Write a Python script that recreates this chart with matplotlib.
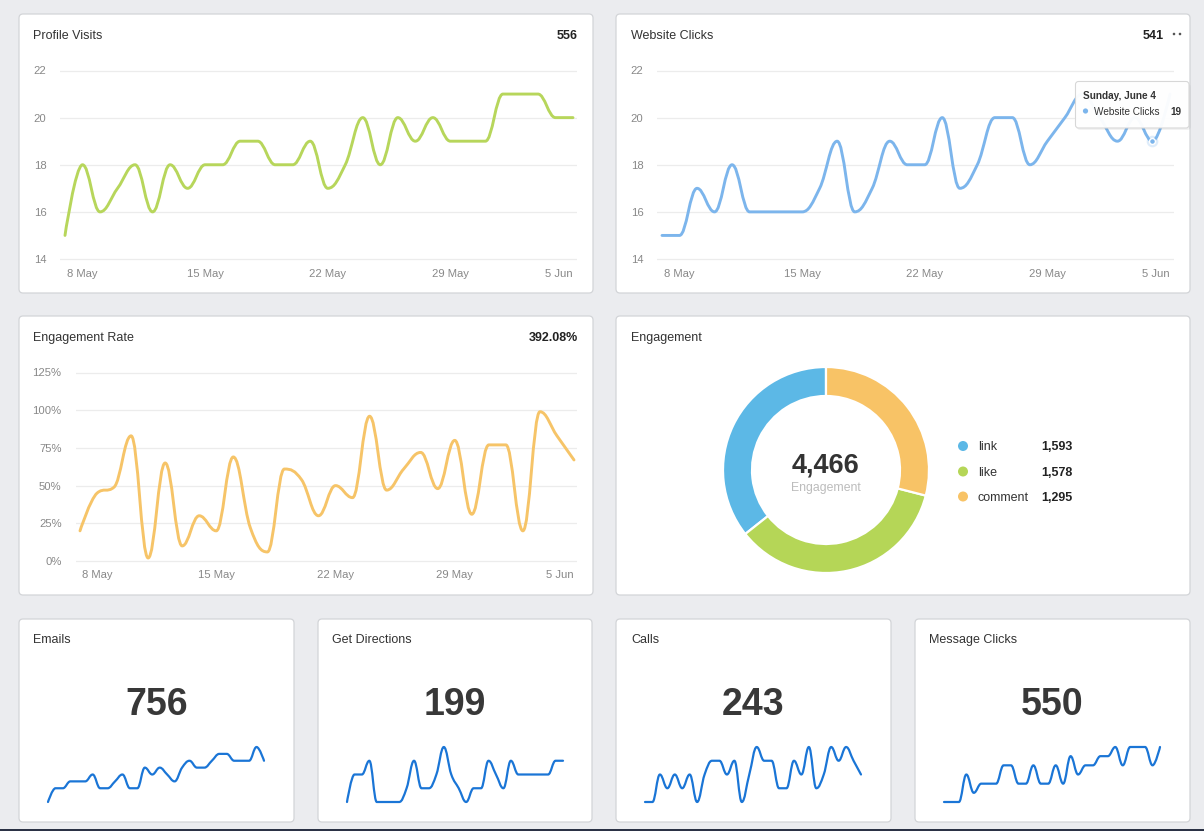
import matplotlib
matplotlib.use('Agg')
import matplotlib.pyplot as plt
from matplotlib.path import Path
from matplotlib.patches import PathPatch, FancyBboxPatch, Circle, Rectangle

plt.rcParams['font.family'] = ['Liberation Sans', 'DejaVu Sans']

# ---------------- data ----------------
days = ['7 May', '8 May', '9 May', '10 May', '11 May', '12 May', '13 May', '14 May',
        '15 May', '16 May', '17 May', '18 May', '19 May', '20 May', '21 May', '22 May',
        '23 May', '24 May', '25 May', '26 May', '27 May', '28 May', '29 May', '30 May',
        '31 May', '1 Jun', '2 Jun', '3 Jun', '4 Jun', '5 Jun']
xtick_pos = [1, 8, 15, 22, 29]
xtick_labels = ['8 May', '15 May', '22 May', '29 May', '5 Jun']

profile_visits = [15, 18, 16, 17, 18, 16, 18, 17, 18, 18,
                  19, 19, 18, 18, 19, 17, 18, 20, 18, 20,
                  19, 20, 19, 19, 19, 21, 21, 21, 20, 20]
website_clicks = [15, 15, 17, 16, 18, 16, 16, 16, 16, 17,
                  19, 16, 17, 19, 18, 18, 20, 17, 18, 20,
                  20, 18, 19, 20, 21, 20, 19, 20, 19, 21]
engagement_rate = [20, 45, 49, 83, 2, 65, 10, 30, 20, 69,
                   22, 6, 61, 54, 30, 50, 42, 96, 47, 61,
                   72, 48, 80, 31, 77, 77, 20, 99, 83, 67]
engagement_rate_total = '392.08%'

eng_labels = ['link', 'like', 'comment']
eng_values = [1593, 1578, 1295]

emails = [21, 23, 23, 24, 24, 24, 25, 23, 23, 24,
          25, 23, 23, 26, 25, 26, 25, 24, 26, 27,
          26, 26, 27, 28, 28, 27, 27, 27, 29, 27]
directions = [5, 7, 7, 8, 5, 5, 5, 5, 6, 8,
              6, 6, 7, 9, 7, 6, 5, 6, 6, 8,
              7, 6, 8, 7, 7, 7, 7, 7, 8, 8]
calls = [6, 6, 8, 7, 8, 7, 8, 6, 8, 9,
         9, 8, 9, 6, 8, 10, 9, 9, 7, 7,
         9, 8, 10, 7, 8, 10, 9, 10, 9, 8]
message_clicks = [15, 15, 15, 18, 16, 17, 17, 17, 19, 19,
                  17, 17, 19, 17, 17, 19, 17, 20, 18, 19,
                  19, 20, 20, 21, 19, 21, 21, 21, 19, 21]

# ---------------- styling ----------------
W, H = 1204, 831
BG = '#EBECEF'
TXT = '#333333'
TICK = '#888888'
GRID = '#ececec'
C_GREEN = '#B7D65B'
C_BLUE = '#7CB5EC'
C_ORANGE = '#F6C468'
C_SPARK = '#1A75D6'
DONUT_COLORS = ['#5CB8E6', '#B5D657', '#F8C366']
PT = 0.72  # points per pixel at 100 dpi
CAP = 0.716  # cap height ratio

fig = plt.figure(figsize=(W / 100, H / 100), dpi=100)
fig.patch.set_facecolor(BG)


def fig_axes(x0, y0, x1, y1, z=1):
    return fig.add_axes([x0 / W, 1 - y1 / H, (x1 - x0) / W, (y1 - y0) / H], zorder=z)


bg = fig_axes(0, 0, W, H, z=0)
bg.set_xlim(0, W)
bg.set_ylim(H, 0)
bg.axis('off')


def ctext(ax, x, y, s, px, **kw):
    """Text whose cap-height centre sits on y (pixel coords)."""
    return ax.text(x, y + CAP * px / 2, s, fontsize=px * PT, va='baseline', **kw)


cards = [(19, 14, 593, 293), (616, 14, 1190, 293),
         (19, 316, 593, 595), (616, 316, 1190, 595),
         (19, 619, 294, 822), (318, 619, 592, 822),
         (616, 619, 891, 822), (915, 619, 1190, 822)]
for (x0, y0, x1, y1) in cards:
    bg.add_patch(FancyBboxPatch((x0, y0), x1 - x0, y1 - y0,
                                boxstyle='round,pad=0,rounding_size=4',
                                fc='white', ec='#d3d5d8', lw=0.9))
bg.add_patch(Rectangle((0, 828.5), W, 3, fc='#2b3245', ec='none'))

TS = 12.5
for x, y, t in [(33, 34.3, 'Profile Visits'), (631, 34.3, 'Website Clicks'),
                (33, 336.3, 'Engagement Rate'), (631, 336.3, 'Engagement'),
                (33, 638.3, 'Emails'), (332, 638.3, 'Get Directions'),
                (631, 638.3, 'Calls'), (929, 638.3, 'Message Clicks')]:
    ctext(bg, x, y, t, TS, color=TXT, ha='left')

ctext(bg, 578, 34.3, str(sum(profile_visits)), TS, color='#222', ha='right', fontweight='bold')
ctext(bg, 1164, 34.3, str(sum(website_clicks)), TS, color='#222', ha='right', fontweight='bold')
ctext(bg, 578, 336.3, engagement_rate_total, TS, color='#222', ha='right', fontweight='bold')
for dx in (1174, 1180):
    bg.add_patch(Circle((dx, 34), 1.3, fc='#555', ec='none'))


def hc_spline_path(xs, ys, smoothing=1.5):
    n = len(xs)
    denom = smoothing + 1
    lc = [None] * n
    rc = [None] * n
    for i in range(1, n - 1):
        px, py = xs[i], ys[i]
        lx, ly = xs[i - 1], ys[i - 1]
        nx, ny = xs[i + 1], ys[i + 1]
        lcx = (smoothing * px + lx) / denom
        lcy = (smoothing * py + ly) / denom
        rcx = (smoothing * px + nx) / denom
        rcy = (smoothing * py + ny) / denom
        corr = 0.0
        if rcx != lcx:
            corr = (rcy - lcy) * (rcx - px) / (rcx - lcx) + py - rcy
        lcy += corr
        rcy += corr
        if lcy > ly and lcy > py:
            lcy = max(ly, py)
            rcy = 2 * py - lcy
        elif lcy < ly and lcy < py:
            lcy = min(ly, py)
            rcy = 2 * py - lcy
        if rcy > ny and rcy > py:
            rcy = max(ny, py)
            lcy = 2 * py - rcy
        elif rcy < ny and rcy < py:
            rcy = min(ny, py)
            lcy = 2 * py - rcy
        lc[i] = (lcx, lcy)
        rc[i] = (rcx, rcy)
    verts = [(xs[0], ys[0])]
    codes = [Path.MOVETO]
    for i in range(1, n):
        c1 = rc[i - 1] if rc[i - 1] is not None else (xs[i - 1], ys[i - 1])
        c2 = lc[i] if lc[i] is not None else (xs[i], ys[i])
        verts += [c1, c2, (xs[i], ys[i])]
        codes += [Path.CURVE4] * 3
    return Path(verts, codes)


def make_axes(gx0, gx1, px_first, px_last, py_lo, py_hi, v_lo, v_hi, pad=5, z=2):
    n = len(days) - 1
    ppd = (px_last - px_first) / n
    ppu = (py_lo - py_hi) / (v_hi - v_lo)
    ax = fig_axes(gx0, py_hi - pad, gx1, py_lo + pad, z=z)
    ax.set_xlim((gx0 - px_first) / ppd, n + (gx1 - px_last) / ppd)
    ax.set_ylim(v_lo - pad / ppu, v_hi + pad / ppu)
    ax.patch.set_alpha(0)
    for s in ax.spines.values():
        s.set_visible(False)
    return ax


def line_chart(ax, values, yticks, ylabels, color, ylab_pad_px):
    xs = list(range(len(values)))
    ax.add_patch(PathPatch(hc_spline_path(xs, values), fill=False, ec=color, lw=2.1,
                           capstyle='round', joinstyle='round', zorder=3))
    ax.set_yticks(yticks)
    ax.set_yticklabels(ylabels)
    ax.set_xticks(xtick_pos)
    ax.set_xticklabels(xtick_labels)
    ax.xaxis.get_majorticklabels()[-1].set_horizontalalignment('right')
    ax.tick_params(axis='both', length=0, labelsize=11.3 * PT, labelcolor=TICK)
    ax.tick_params(axis='y', pad=ylab_pad_px * PT)
    ax.tick_params(axis='x', pad=4.5 * PT)
    ax.grid(axis='y', color=GRID, lw=0.9)
    ax.set_axisbelow(True)


# Profile Visits
ax1 = make_axes(60, 577, 65, 573, 259, 70.5, 14, 22)
line_chart(ax1, profile_visits, [14, 16, 18, 20, 22], ['14', '16', '18', '20', '22'], C_GREEN, 13.4)

# Website Clicks
ax2 = make_axes(657, 1174, 662, 1170, 259, 70.5, 14, 22)
line_chart(ax2, website_clicks, [14, 16, 18, 20, 22], ['14', '16', '18', '20', '22'], C_BLUE, 13.4)
hover_i = 28
ax2.scatter([hover_i], [website_clicks[hover_i]], s=70, color=C_BLUE, alpha=0.25, lw=0, zorder=4)
ax2.scatter([hover_i], [website_clicks[hover_i]], s=18, color=C_BLUE, edgecolor='white', lw=1, zorder=5)

# Engagement Rate
ax3 = make_axes(75.5, 577, 80, 574, 561, 372.5, 0, 125)
line_chart(ax3, engagement_rate, [0, 25, 50, 75, 100, 125],
           ['0%', '25%', '50%', '75%', '100%', '125%'], C_ORANGE, 14)

# Engagement donut
cx, cy, R, r = 826, 470, 103, 74
half = 112
dax = fig_axes(cx - half, cy - half, cx + half, cy + half, z=2)
dax.pie(eng_values, colors=DONUT_COLORS, startangle=90, counterclock=True, radius=1,
        wedgeprops=dict(width=(R - r) / R, edgecolor='white', linewidth=1.6))
dax.set_xlim(-half / R, half / R)
dax.set_ylim(-half / R, half / R)
dax.set_aspect('equal')
dax.axis('off')
ctext(bg, cx, 463, f'{sum(eng_values):,}', 27, fontweight='bold', color='#333', ha='center')
bg.text(cx, 488, 'Engagement', fontsize=12.3 * PT, color='#bcbcbc', ha='center', va='center')
for lab, val, col, ly in zip(eng_labels, eng_values, DONUT_COLORS, [446, 471.5, 496.5]):
    bg.add_patch(Circle((963, ly), 5, fc=col, ec='none'))
    ctext(bg, 978, ly, lab, TS, color=TXT, ha='left')
    ctext(bg, 1073, ly, f'{val:,}', TS, color='#222', ha='right', fontweight='bold')

# KPI cards with sparklines
kpis = [(19, 294, emails), (318, 592, directions), (616, 891, calls), (915, 1190, message_clicks)]
for (x0, x1, vals) in kpis:
    ctext(bg, (x0 + x1) / 2, 701.5, str(sum(vals)), 37.5, fontweight='bold',
          color='#383838', ha='center')
    sax = make_axes(x0 + 25, x0 + 249, x0 + 29, x0 + 245, 802, 747, min(vals), max(vals), pad=4)
    sax.add_patch(PathPatch(hc_spline_path(list(range(len(vals))), vals), fill=False,
                            ec=C_SPARK, lw=1.6, capstyle='round', joinstyle='round'))
    sax.set_xticks([])
    sax.set_yticks([])

# Tooltip overlay
top = fig_axes(0, 0, W, H, z=10)
top.set_xlim(0, W)
top.set_ylim(H, 0)
top.axis('off')
top.add_patch(FancyBboxPatch((1077, 83.5), 113.5, 46.5, boxstyle='round,pad=0,rounding_size=3',
                             fc='black', ec='none', alpha=0.05))
top.add_patch(FancyBboxPatch((1075.5, 81.5), 113.5, 46.5, boxstyle='round,pad=0,rounding_size=3',
                             fc='white', ec='#d6d6d6', lw=0.8, alpha=0.96))
ctext(top, 1083, 95, 'Sunday, June 4', 10, fontweight='bold', color='#333', ha='left')
top.add_patch(Circle((1085.5, 111), 2.6, fc=C_BLUE, ec='none'))
ctext(top, 1094, 111, 'Website Clicks', 10, color='#333', ha='left')
ctext(top, 1181, 111, str(website_clicks[hover_i]), 10, fontweight='bold', color='#333', ha='right')

fig.savefig('out.png', dpi=100, facecolor=fig.get_facecolor())
